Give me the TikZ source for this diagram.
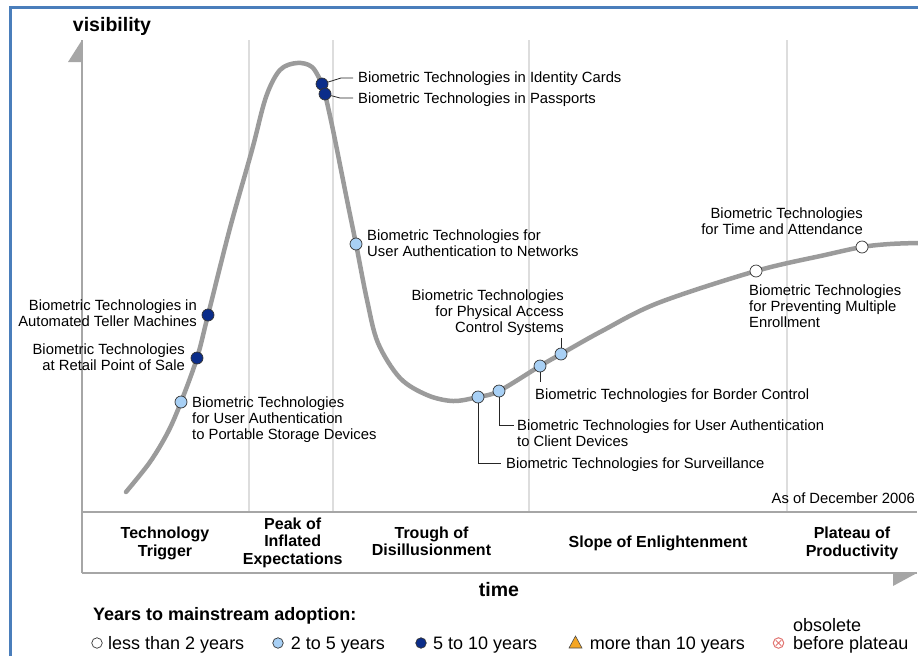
\documentclass[tikz,border=0pt]{standalone}
\usepackage{fontspec}
\setmainfont{Liberation Sans}
\setsansfont{Liberation Sans}
\begin{document}
\definecolor{frameblue}{HTML}{4A7EBB}
\definecolor{curvegray}{HTML}{9B9B9B}
\definecolor{axisgray}{HTML}{A6A6A6}
\definecolor{gridgray}{HTML}{DDDDDD}
\definecolor{darkdot}{HTML}{0B2D8A}
\definecolor{lightdot}{HTML}{A8D0F5}
\definecolor{tricol}{HTML}{F5A623}
\definecolor{obscol}{HTML}{D9534F}
\tikzset{
 lbl/.style={font=\fontsize{14.8}{16}\selectfont, inner sep=0pt, align=left},
 lblr/.style={font=\fontsize{14.8}{16}\selectfont, inner sep=0pt, align=right},
 phase/.style={font=\bfseries\fontsize{16}{17.5}\selectfont, inner sep=0pt, align=center, anchor=base},
 dotbase/.style={circle, draw=black!80, line width=0.7pt, minimum size=12pt, inner sep=0pt},
 ddot/.style={dotbase, fill=darkdot},
 ldot/.style={dotbase, fill=lightdot},
 wdot/.style={dotbase, fill=white},
 legdot/.style={circle, draw=black!80, line width=0.7pt, minimum size=10.5pt, inner sep=0pt},
 leader/.style={draw=black!85, line width=0.8pt},
 gridln/.style={gridgray, line width=2pt},
 axisln/.style={axisgray, line width=1.8pt},
 leg/.style={font=\fontsize{18}{19}\selectfont, inner sep=0pt, anchor=base west},
 bigbold/.style={font=\bfseries\fontsize{19.5}{21}\selectfont, inner sep=0pt, anchor=base},
}
\begin{tikzpicture}[x=1pt,y=-1pt]
\useasboundingbox (0,0) rectangle (918,656);
% frame
\draw[frameblue, line width=3pt] (10,656) -- (10,7.5) -- (918,7.5);
% grid lines
\foreach \gx in {249,333,529,787} \draw[gridln] (\gx,40) -- (\gx,512);
% axes
\coordinate (ytop) at (82,40);
\coordinate (orig) at (82,573);
\coordinate (xend) at (917,573);
\coordinate (bandL) at (82,512);
\coordinate (bandR) at (917,512);
\draw[axisln] (orig) -- (ytop);
\draw[axisln] (orig) -- (xend);
\draw[axisln] (bandL) -- (bandR);
\fill[axisgray] (82,40) -- (82,62) -- (68,62) -- cycle;
\fill[axisgray] (917,573) -- (893,573) -- (893,586) -- cycle;
% curve
\draw[curvegray, line width=4.5pt, line cap=round, line join=round] plot[smooth, tension=0.55] coordinates {
(126,492) (150,462) (168,432) (181,402) (197,358) (208,315) (230,228) (252,150) (266,97) (280,70) (297,63) (312,67) (322,84) (325,94) (333,130) (347,200) (356,244) (367,300) (378,343) (400,378) (427,395) (453,401) (478,397) (499,391) (540,366) (561,354) (602,331) (658,303) (756,271) (825,255) (862,247) (890,244) (918,243)};
% dots
\node[ddot] (d1) at (322,84) {};
\node[ddot] (d2) at (325,94) {};
\node[ldot] (d3) at (356,244) {};
\node[ddot] (d4) at (208,315) {};
\node[ddot] (d5) at (197,358) {};
\node[ldot] (d6) at (181,402) {};
\node[ldot] (d7) at (561,354) {};
\node[ldot] (d8) at (540,366) {};
\node[ldot] (d9) at (499,391) {};
\node[ldot] (d10) at (478,397) {};
\node[wdot] (d11) at (862,247) {};
\node[wdot] (d12) at (756,271) {};
% labels (base anchor = baseline of last line)
\node[lbl, anchor=base west] (l1) at (358,82) {Biometric Technologies in Identity Cards};
\node[lbl, anchor=base west] (l2) at (358,103) {Biometric Technologies in Passports};
\node[lbl, anchor=base west] (l3) at (367,256) {Biometric Technologies for\\User Authentication to Networks};
\node[lblr, anchor=base east] (l4) at (197,326) {Biometric Technologies in\\Automated Teller Machines};
\node[lblr, anchor=base east] (l5) at (185,370) {Biometric Technologies\\at Retail Point of Sale};
\node[lbl, anchor=base west] (l6) at (192,439) {Biometric Technologies\\for User Authentication\\to Portable Storage Devices};
\node[lblr, anchor=base east] (l7) at (564,332) {Biometric Technologies\\for Physical Access\\Control Systems};
\node[lbl, anchor=base west] (l8) at (535,399) {Biometric Technologies for Border Control};
\node[lbl, anchor=base west] (l9) at (517,446) {Biometric Technologies for User Authentication\\to Client Devices};
\node[lbl, anchor=base west] (l10) at (506,468) {Biometric Technologies for Surveillance};
\node[lblr, anchor=base east] (l11) at (863,234) {Biometric Technologies\\for Time and Attendance};
\node[lbl, anchor=base west] (l12) at (749,327) {Biometric Technologies\\for Preventing Multiple\\Enrollment};
\node[lbl, anchor=base east] (asof) at (915,503) {As of December 2006};
% leaders
\coordinate (b1) at (341,78); \coordinate (e1) at (353,78);
\coordinate (b2) at (340,98); \coordinate (e2) at (353,98);
\coordinate (e7) at (561,338);
\coordinate (e8) at (540,382);
\coordinate (b9) at (499,425); \coordinate (e9) at (514,425);
\coordinate (b10) at (478,463); \coordinate (e10) at (501,463);
\draw[leader] (d1) -- (b1) -- (e1);
\draw[leader] (d2) -- (b2) -- (e2);
\draw[leader] (d7) -- (e7);
\draw[leader] (d8) -- (e8);
\draw[leader] (d9) -- (b9) -- (e9);
\draw[leader] (d10) -- (b10) -- (e10);
% axis titles
\node[bigbold] (vis) at (112,31.5) {visibility};
\node[bigbold] (time) at (499,596.5) {time};
% phases
\node[phase] (p1) at (165,556) {Technology\\Trigger};
\node[phase] (p2) at (292.7,564) {Peak of\\Inflated\\Expectations};
\node[phase] (p3) at (431.5,555.5) {Trough of\\Disillusionment};
\node[phase] (p4) at (658,547) {Slope of Enlightenment};
\node[phase] (p5) at (852,556) {Plateau of\\Productivity};
% legend
\node[font=\bfseries\fontsize{18}{19}\selectfont, inner sep=0pt, anchor=base west] (legt) at (93,620) {Years to mainstream adoption:};
\node[legdot, fill=white] (g1) at (97,643) {};
\node[leg] (t1) at (108,649.5) {less than 2 years};
\node[legdot, fill=lightdot] (g2) at (278,643) {};
\node[leg] (t2) at (290.7,649.5) {2 to 5 years};
\node[legdot, fill=darkdot] (g3) at (421,643) {};
\node[leg] (t3) at (433,649.5) {5 to 10 years};
\draw[fill=tricol, draw=black!70, line width=0.6pt] (569,648) -- (582,648) -- (575.5,636) -- cycle;
\node[leg] (t4) at (589.7,649.5) {more than 10 years};
\node[circle, draw=obscol!80, line width=1pt, minimum size=10.5pt, inner sep=0pt, path picture={\draw[obscol!80, line width=1pt] (path picture bounding box.south west) ++(2.5pt,2.5pt) -- ++(5.5pt,5.5pt) ++(-5.5pt,0) -- ++(5.5pt,-5.5pt);}] (g5) at (778.5,643) {};
\node[leg] (t5a) at (793,631.5) {obsolete};
\node[leg] (t5) at (793,649.5) {before plateau};
\end{tikzpicture}
\end{document}
